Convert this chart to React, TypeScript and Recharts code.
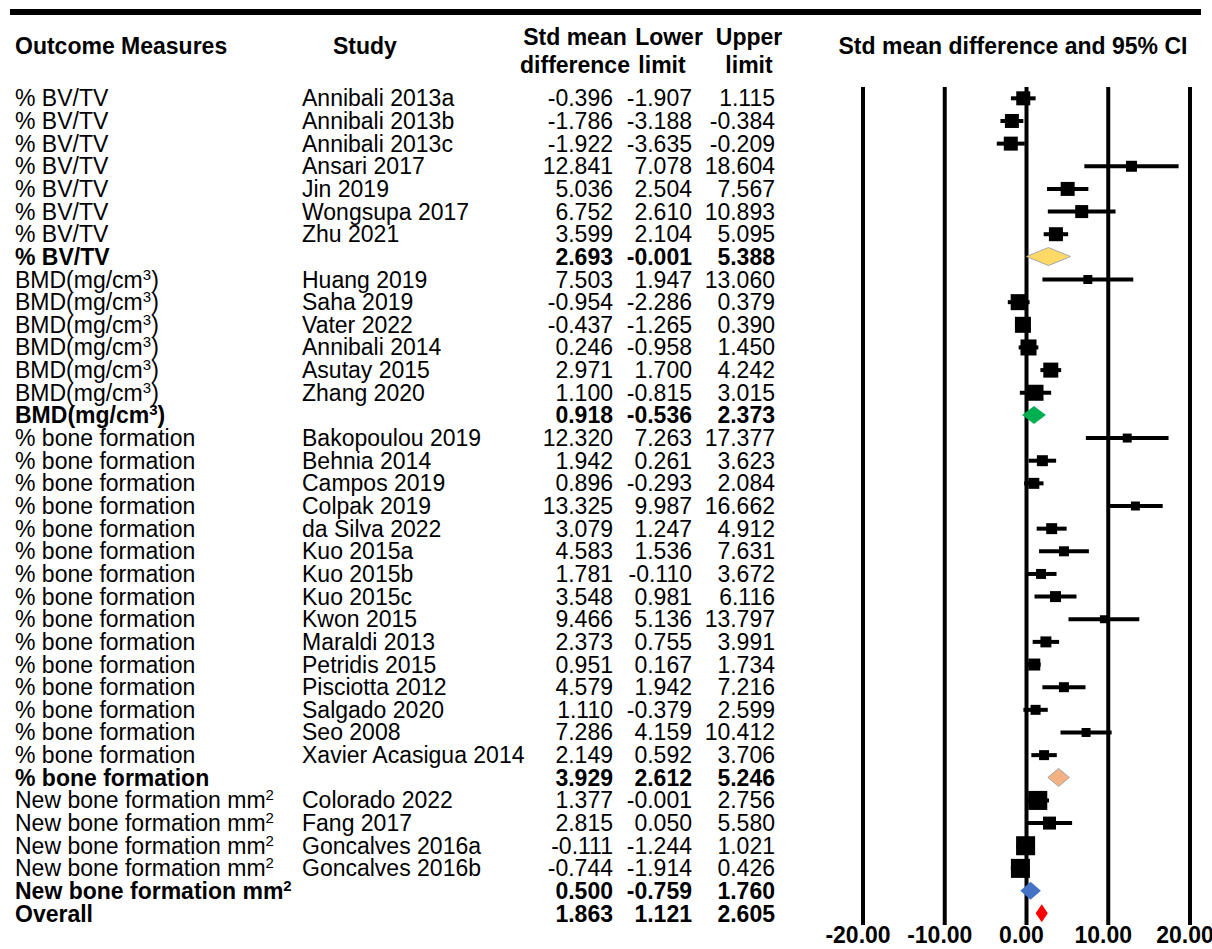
import React from 'react';
import { ComposedChart, XAxis, YAxis, Scatter, Bar, ErrorBar, CartesianGrid } from 'recharts';

// Forest plot: standardized mean differences with 95% CI, grouped by outcome measure.
const outcomeLabels = [
  '% BV/TV', '% BV/TV', '% BV/TV', '% BV/TV', '% BV/TV', '% BV/TV', '% BV/TV', '% BV/TV',
  'BMD(mg/cm³)', 'BMD(mg/cm³)', 'BMD(mg/cm³)', 'BMD(mg/cm³)', 'BMD(mg/cm³)', 'BMD(mg/cm³)', 'BMD(mg/cm³)',
  '% bone formation', '% bone formation', '% bone formation', '% bone formation', '% bone formation',
  '% bone formation', '% bone formation', '% bone formation', '% bone formation', '% bone formation',
  '% bone formation', '% bone formation', '% bone formation', '% bone formation', '% bone formation',
  '% bone formation',
  'New bone formation mm²', 'New bone formation mm²', 'New bone formation mm²', 'New bone formation mm²',
  'New bone formation mm²',
  'Overall',
];

const studyNames = [
  'Annibali 2013a', 'Annibali 2013b', 'Annibali 2013c', 'Ansari 2017', 'Jin 2019', 'Wongsupa 2017', 'Zhu 2021', '',
  'Huang 2019', 'Saha 2019', 'Vater 2022', 'Annibali 2014', 'Asutay 2015', 'Zhang 2020', '',
  'Bakopoulou 2019', 'Behnia 2014', 'Campos 2019', 'Colpak 2019', 'da Silva 2022', 'Kuo 2015a', 'Kuo 2015b',
  'Kuo 2015c', 'Kwon 2015', 'Maraldi 2013', 'Petridis 2015', 'Pisciotta 2012', 'Salgado 2020', 'Seo 2008',
  'Xavier Acasigua 2014', '',
  'Colorado 2022', 'Fang 2017', 'Goncalves 2016a', 'Goncalves 2016b', '',
  '',
];

const smdValues = [
  -0.396, -1.786, -1.922, 12.841, 5.036, 6.752, 3.599, 2.693,
  7.503, -0.954, -0.437, 0.246, 2.971, 1.1, 0.918,
  12.32, 1.942, 0.896, 13.325, 3.079, 4.583, 1.781, 3.548, 9.466, 2.373, 0.951, 4.579, 1.11, 7.286, 2.149, 3.929,
  1.377, 2.815, -0.111, -0.744, 0.5,
  1.863,
];

const lowerLimits = [
  -1.907, -3.188, -3.635, 7.078, 2.504, 2.61, 2.104, -0.001,
  1.947, -2.286, -1.265, -0.958, 1.7, -0.815, -0.536,
  7.263, 0.261, -0.293, 9.987, 1.247, 1.536, -0.11, 0.981, 5.136, 0.755, 0.167, 1.942, -0.379, 4.159, 0.592, 2.612,
  -0.001, 0.05, -1.244, -1.914, -0.759,
  1.121,
];

const upperLimits = [
  1.115, -0.384, -0.209, 18.604, 7.567, 10.893, 5.095, 5.388,
  13.06, 0.379, 0.39, 1.45, 4.242, 3.015, 2.373,
  17.377, 3.623, 2.084, 16.662, 4.912, 7.631, 3.672, 6.116, 13.797, 3.991, 1.734, 7.216, 2.599, 10.412, 3.706, 5.246,
  2.756, 5.58, 1.021, 0.426, 1.76,
  2.605,
];

// Relative study weights (%); null marks a pooled (summary) row.
const studyWeights: (number | null)[] = [
  15.1, 15.1, 15.1, 9.3, 15.1, 13.0, 15.1, null,
  6.2, 19.8, 19.8, 19.8, 17.4, 19.8, null,
  6.2, 9.3, 9.3, 6.2, 9.3, 7.7, 7.7, 9.3, 4.9, 9.3, 11.1, 7.7, 7.7, 6.2, 7.7, null,
  27.9, 13.0, 27.9, 27.9, null,
  null,
];

const axisTicks = [-20, -10, 0, 10, 20];

const diamondFills = ['#FFD966', '#00B050', '#F4B183', '#4472C4', '#FF0000'];
const diamondStrokes = ['#A6A6A6', 'none', '#A6A6A6', 'none', 'none'];

const FONT = '"Liberation Sans", Arial, Helvetica, sans-serif';
const FS = 23;

type Row = {
  id: string;
  outcome: string;
  study: string;
  smd: number;
  lower: number;
  upper: number;
  weight: number | null;
  summary: boolean;
  ci: [number, number];
  fill: string;
  stroke: string;
};

let summaryCount = 0;
const rows: Row[] = outcomeLabels.map((outcome, i) => {
  const summary = studyWeights[i] == null;
  const si = summary ? summaryCount++ : -1;
  return {
    id: String(i),
    outcome,
    study: studyNames[i],
    smd: smdValues[i],
    lower: lowerLimits[i],
    upper: upperLimits[i],
    weight: studyWeights[i],
    summary,
    ci: [smdValues[i] - lowerLimits[i], upperLimits[i] - smdValues[i]],
    fill: summary ? diamondFills[si] : '#000',
    stroke: summary ? diamondStrokes[si] : 'none',
  };
});

const studyRows = rows.filter((r) => !r.summary);

// Render ² and ³ as raised small digits
const renderLabel = (label: string) => {
  const parts: React.ReactNode[] = [];
  let buf = '';
  let raised = false;
  let k = 0;
  for (const ch of label) {
    if (ch === '²' || ch === '³') {
      if (buf) parts.push(<tspan key={k++}>{buf}</tspan>);
      buf = '';
      parts.push(
        <tspan key={k++} dy={-8} fontSize={15}>
          {ch === '²' ? '2' : '3'}
        </tspan>
      );
      raised = true;
    } else {
      if (raised && buf === '') {
        parts.push(<tspan key={k++} dy={8}>{ch}</tspan>);
        raised = false;
        continue;
      }
      buf += ch;
    }
  }
  if (buf) parts.push(<tspan key={k++}>{buf}</tspan>);
  return parts;
};

const TableRowTick = (props: any) => {
  const { y, payload } = props;
  const row = rows[Number(payload.value)];
  if (!row) return null;
  const weight = row.summary ? 'bold' : 'normal';
  const common = { fontFamily: FONT, fontSize: FS, fill: '#000', fontWeight: weight } as any;
  const by = y + 8;
  return (
    <g>
      <text x={15} y={by} {...common}>{renderLabel(row.outcome)}</text>
      <text x={302} y={by} {...common} fontWeight="normal">{row.study}</text>
      <text x={613} y={by} {...common} textAnchor="end">{row.smd.toFixed(3)}</text>
      <text x={692} y={by} {...common} textAnchor="end">{row.lower.toFixed(3)}</text>
      <text x={775} y={by} {...common} textAnchor="end">{row.upper.toFixed(3)}</text>
    </g>
  );
};

const AxisTick = (props: any) => {
  const { x, y, payload } = props;
  return (
    <text x={x - 5} y={y} dy={18} textAnchor="middle" fontFamily={FONT} fontSize={FS} fontWeight="bold" fill="#000">
      {Number(payload.value).toFixed(2)}
    </text>
  );
};

const SquareShape = (props: any) => {
  const { cx, cy, payload } = props;
  if (cx == null || cy == null || !payload || payload.weight == null) return null;
  const side = 3.6 * Math.sqrt(payload.weight);
  return <rect x={cx - side / 2} y={cy - side / 2} width={side} height={side} fill="#000" />;
};

const DiamondShape = (props: any) => {
  const { x, y, width, height, payload } = props;
  if (!payload || !payload.summary || width == null) return null;
  const span = payload.upper - payload.lower;
  const mid = x + ((payload.smd - payload.lower) / span) * width;
  const cy = y + height / 2;
  const pts = `${x},${cy} ${mid},${y} ${x + width},${cy} ${mid},${y + height}`;
  return <polygon points={pts} fill={payload.fill} stroke={payload.stroke} strokeWidth={1} />;
};

const Header = () => (
  <svg width={1212} height={100} style={{ position: 'absolute', left: 0, top: 0, pointerEvents: 'none' }}>
    <rect x={10} y={9} width={1191} height={6} fill="#000" />
    <g fontFamily={FONT} fontSize={FS} fontWeight="bold" fill="#000">
      <text x={15} y={54}>Outcome Measures</text>
      <text x={333} y={54}>Study</text>
      <text x={575} y={45} textAnchor="middle">Std mean</text>
      <text x={575} y={73} textAnchor="middle">difference</text>
      <text x={669} y={45} textAnchor="middle">Lower</text>
      <text x={662} y={73} textAnchor="middle">limit</text>
      <text x={749} y={45} textAnchor="middle">Upper</text>
      <text x={749} y={73} textAnchor="middle">limit</text>
      <text x={1013} y={54} textAnchor="middle">Std mean difference and 95% CI</text>
    </g>
  </svg>
);

export default function App() {
  return (
    <div style={{ position: 'absolute', left: 0, top: 0, width: 1212, height: 949, background: '#fff' }}>
      <ComposedChart
        width={1212}
        height={949}
        layout="vertical"
        data={rows}
        margin={{ top: 87, right: 22, bottom: 0, left: 0 }}
      >
        <CartesianGrid horizontal={false} vertical stroke="#000" strokeWidth={4} />
        <XAxis
          type="number"
          dataKey="smd"
          domain={[-20, 20]}
          ticks={axisTicks}
          allowDataOverflow
          axisLine={false}
          tickLine={false}
          tickSize={0}
          tickMargin={0}
          height={24}
          tick={<AxisTick />}
        />
        <YAxis
          type="category"
          dataKey="id"
          width={863}
          interval={0}
          allowDuplicatedCategory={false}
          axisLine={false}
          tickLine={false}
          tick={<TableRowTick />}
        />
        <Bar
          dataKey={(d: Row) => (d.summary ? [d.lower, d.upper] : null)}
          barSize={18}
          shape={<DiamondShape />}
          isAnimationActive={false}
        />
        <Scatter data={studyRows} dataKey="smd" shape={<SquareShape />} isAnimationActive={false}>
          <ErrorBar dataKey="ci" direction="x" width={0} stroke="#000" strokeWidth={4} />
        </Scatter>
      </ComposedChart>
      <Header />
    </div>
  );
}
